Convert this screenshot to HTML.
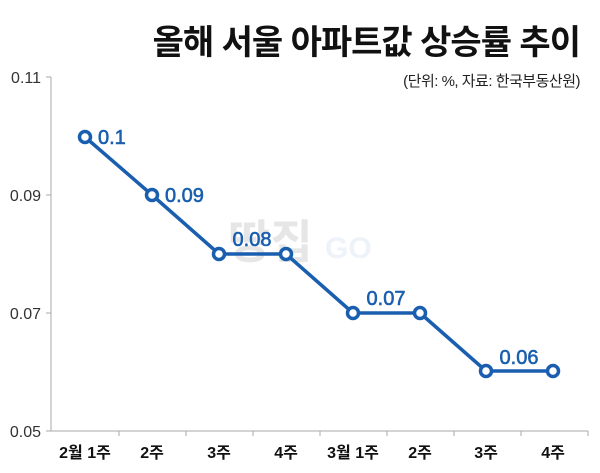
<!DOCTYPE html>
<html><head><meta charset="utf-8"><style>
html,body{margin:0;padding:0;background:#fff;}
svg{display:block;}
</style></head><body>
<svg width="600" height="473" viewBox="0 0 600 473" xmlns="http://www.w3.org/2000/svg" font-family="'Liberation Sans','Noto Sans CJK KR',sans-serif">
<text x="580" y="54" text-anchor="end" font-size="34" font-weight="bold" fill="#111" letter-spacing="-1">올해 서울 아파트값 상승률 추이</text>
<text x="580" y="86" text-anchor="end" font-size="15" fill="#222" letter-spacing="-0.5">(단위: %, 자료: 한국부동산원)</text>
<text x="228" y="258" font-size="46" font-weight="bold" fill="#e6e6e6">땅집</text>
<text x="325" y="258" font-size="30" font-weight="bold" fill="#eef3fa">GO</text>
<g stroke="#aaa" stroke-width="1" fill="none">
<line x1="51" y1="77" x2="51" y2="431"/>
<line x1="46" y1="77" x2="51" y2="77"/>
<line x1="46" y1="195" x2="51" y2="195"/>
<line x1="46" y1="313" x2="51" y2="313"/>
<line x1="46" y1="431" x2="588" y2="431"/>
<line x1="119" y1="431" x2="119" y2="436"/><line x1="186" y1="431" x2="186" y2="436"/>
<line x1="253" y1="431" x2="253" y2="436"/><line x1="320" y1="431" x2="320" y2="436"/>
<line x1="387" y1="431" x2="387" y2="436"/><line x1="454" y1="431" x2="454" y2="436"/>
<line x1="521" y1="431" x2="521" y2="436"/><line x1="588" y1="431" x2="588" y2="436"/>
</g>
<g font-size="16" fill="#333" text-anchor="end">
<text x="41" y="83">0.11</text><text x="41" y="201">0.09</text>
<text x="41" y="319">0.07</text><text x="41" y="437">0.05</text>
</g>
<g font-size="16" font-weight="bold" fill="#111" text-anchor="middle">
<text x="85" y="458">2월 1주</text><text x="152" y="458">2주</text><text x="219" y="458">3주</text><text x="286" y="458">4주</text>
<text x="353" y="458">3월 1주</text><text x="420" y="458">2주</text><text x="486" y="458">3주</text><text x="553" y="458">4주</text>
</g>
<polyline points="85,137 152,195 219,254 286,254 353,313 420,313 486,371 553,371" fill="none" stroke="#1a5faf" stroke-width="3.5" stroke-linejoin="round"/>
<g fill="#fff" stroke="#1a5faf" stroke-width="3.5">
<circle cx="85" cy="137" r="5.5"/><circle cx="152" cy="195" r="5.5"/><circle cx="219" cy="254" r="5.5"/><circle cx="286" cy="254" r="5.5"/>
<circle cx="353" cy="313" r="5.5"/><circle cx="420" cy="313" r="5.5"/><circle cx="486" cy="371" r="5.5"/><circle cx="553" cy="371" r="5.5"/>
</g>
<g font-size="20" fill="#1a5faf" stroke="#1a5faf" stroke-width="0.6">
<text x="98" y="144">0.1</text>
<text x="165" y="202">0.09</text>
<text x="252" y="246" text-anchor="middle">0.08</text>
<text x="386" y="305" text-anchor="middle">0.07</text>
<text x="519" y="364" text-anchor="middle">0.06</text>
</g>
</svg>
</body></html>
